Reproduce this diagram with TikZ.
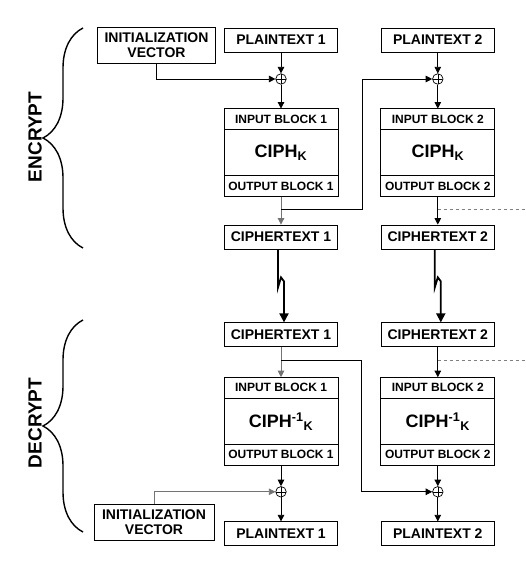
\documentclass[tikz,border=0pt]{standalone}
\usepackage{fontspec}
\setmainfont{Liberation Sans}
\usetikzlibrary{positioning,arrows.meta,decorations.pathreplacing}

\begin{document}
\begin{tikzpicture}[x=1pt,y=-1pt,
    >={Triangle[length=6.5pt,width=6.5pt]},
    box/.style={draw, line width=0.8pt, minimum width=113pt, minimum height=24pt, inner sep=0pt, font=\fontsize{14}{15.5}\selectfont\bfseries},
    ivbox/.style={box, minimum width=118pt, minimum height=36pt, align=center},
    blockpart/.style={draw, line width=0.8pt, outer sep=0pt, minimum width=114pt, minimum height=21pt, inner sep=0pt, font=\fontsize{12}{14}\selectfont\bfseries},
    ciphpart/.style={blockpart, minimum height=46pt, font=\fontsize{18}{20}\selectfont\bfseries},
    xor/.style={draw, circle, line width=0.7pt, minimum size=10.5pt, inner sep=0pt,
        path picture={\draw[line width=0.5pt] (path picture bounding box.north) -- (path picture bounding box.south)
            (path picture bounding box.west) -- (path picture bounding box.east);}},
    link/.style={->, line width=0.8pt},
    feedline/.style={link, draw=black!55},
    nextline/.style={dashed, draw=black!50, line width=0.8pt},
    bolt/.style={-{Triangle[length=9pt,width=9pt]}, line width=1.8pt},
    sidebrace/.style={decorate, decoration={brace, amplitude=40pt}, line width=1.4pt},
    side/.style={rotate=90, font=\fontsize{19}{21}\selectfont\bfseries}]
    \useasboundingbox (0,0) rectangle (526,580);

    % encrypt
    \node[box] (pt1) at (281,40) {PLAINTEXT 1};
    \node[box, right=43pt of pt1] (pt2) {PLAINTEXT 2};
    \node[ivbox] (iv) at (156.5,45) {INITIALIZATION\\VECTOR};
    \node[xor, below=21pt of pt1] (x1) {};
    \node[xor, below=21pt of pt2] (x2) {};
    \node[blockpart, below=24pt of x1] (in1) {INPUT BLOCK 1};
    \node[ciphpart, below=0pt of in1] (ci1) {CIPH\textsubscript{K}};
    \node[blockpart, below=0pt of ci1] (out1) {OUTPUT BLOCK 1};
    \node[blockpart, below=24pt of x2] (in2) {INPUT BLOCK 2};
    \node[ciphpart, below=0pt of in2] (ci2) {CIPH\textsubscript{K}};
    \node[blockpart, below=0pt of ci2] (out2) {OUTPUT BLOCK 2};
    \node[box, below=28pt of out1] (ct1) {CIPHERTEXT 1};
    \node[box, below=28pt of out2] (ct2) {CIPHERTEXT 2};
    \coordinate (br1) at ([yshift=-13pt]out1.south);
    \coordinate (br2) at ([yshift=-13pt]out2.south);

    \draw[link] (pt1) -- (x1);
    \draw[link] (pt2) -- (x2);
    \draw[link] (iv.south) |- (x1.west);
    \draw[link] (x1) -- (in1);
    \draw[link] (x2) -- (in2);
    \draw[feedline] (out1) -- (ct1);
    \draw[link] (out2) -- (ct2);
    \draw[link] (br1) -- ++(81,0) |- (x2.west);
    \draw[nextline] (br2) -- ++(89,0);

    % decrypt
    \node[box, below=73pt of ct1] (dct1) {CIPHERTEXT 1};
    \node[box, below=73pt of ct2] (dct2) {CIPHERTEXT 2};
    \node[blockpart, below=30pt of dct1] (din1) {INPUT BLOCK 1};
    \node[ciphpart, below=0pt of din1] (dci1) {CIPH\textsuperscript{-1}\textsubscript{K}};
    \node[blockpart, below=0pt of dci1] (dout1) {OUTPUT BLOCK 1};
    \node[blockpart, below=30pt of dct2] (din2) {INPUT BLOCK 2};
    \node[ciphpart, below=0pt of din2] (dci2) {CIPH\textsuperscript{-1}\textsubscript{K}};
    \node[blockpart, below=0pt of dci2] (dout2) {OUTPUT BLOCK 2};
    \node[xor, below=21pt of dout1] (dx1) {};
    \node[xor, below=21pt of dout2] (dx2) {};
    \node[box, below=24pt of dx1] (dpt1) {PLAINTEXT 1};
    \node[box, below=24pt of dx2] (dpt2) {PLAINTEXT 2};
    \node[ivbox, minimum width=120pt] (div) at (154,522) {INITIALIZATION\\VECTOR};
    \coordinate (dbr1) at ([yshift=-13pt]dct1.south);
    \coordinate (dbr2) at ([yshift=-13pt]dct2.south);

    \draw[bolt] ([xshift=-3pt]ct1.south) -- ++(0,38) -- ++(3,-10) -- ++(3,4) -- ([xshift=3pt]dct1.north);
    \draw[bolt] ([xshift=-3pt]ct2.south) -- ++(0,38) -- ++(3,-10) -- ++(3,4) -- ([xshift=3pt]dct2.north);

    \draw[feedline] (dct1) -- (din1);
    \draw[link] (dct2) -- (din2);
    \draw[link] (dbr1) -- ++(80,0) |- (dx2.west);
    \draw[nextline] (dbr2) -- ++(89,0);
    \draw[link] (dout1) -- (dx1);
    \draw[link] (dout2) -- (dx2);
    \draw[feedline] (div.north) |- (dx1.west);
    \draw[link] (dx1) -- (dpt1);
    \draw[link] (dx2) -- (dpt2);

    % braces
    \draw[sidebrace] (83,248) -- (83,28);
    \draw[sidebrace] (83,532) -- (83,320);
    \node[side] (enc) at (35,137) {ENCRYPT};
    \node[side] (dec) at (35,423) {DECRYPT};
\end{tikzpicture}
\end{document}
